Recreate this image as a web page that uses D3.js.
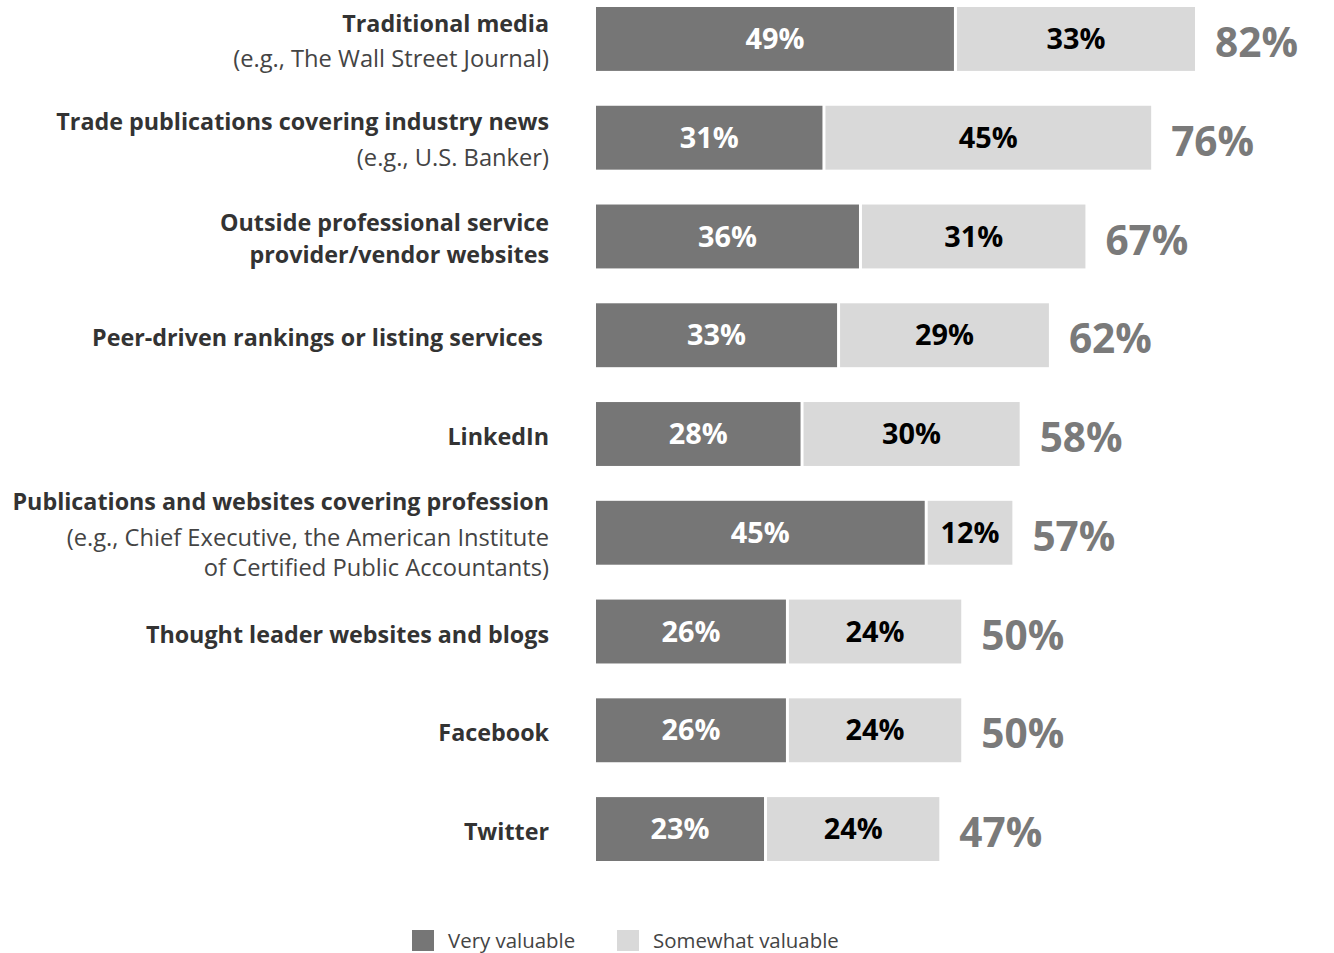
<!DOCTYPE html>
<html>
<head>
<meta charset="utf-8">
<script src="https://cdn.jsdelivr.net/npm/d3@7"></script>
<style>
  html, body { margin: 0; padding: 0; background: #ffffff; }
  svg { display: block; font-family: "Open Sans", "Lato", sans-serif; }
</style>
</head>
<body>
<svg id="chart" width="1334" height="953"></svg>
<script>
// ---- Data ----
const categories = [
  "Traditional media",
  "Trade publications covering industry news",
  "Outside professional service",
  "Peer-driven rankings or listing services\u00A0",
  "LinkedIn",
  "Publications and websites covering profession",
  "Thought leader websites and blogs",
  "Facebook",
  "Twitter"
];
const categoryExtraBold = [
  [],
  [],
  ["provider/vendor websites"],
  [],
  [],
  [],
  [],
  [],
  []
];
const categoryNotes = [
  ["(e.g., The Wall Street Journal)"],
  ["(e.g., U.S. Banker)"],
  [],
  [],
  [],
  ["(e.g., Chief Executive, the American Institute", "of Certified Public Accountants)"],
  [],
  [],
  []
];
const veryValuable     = [49, 31, 36, 33, 28, 45, 26, 26, 23];
const somewhatValuable = [33, 45, 31, 29, 30, 12, 24, 24, 24];
const totals           = [82, 76, 67, 62, 58, 57, 50, 50, 47];
const seriesNames = ["Very valuable", "Somewhat valuable"];

// ---- Style ----
const COLORS = { very: "#767676", some: "#d9d9d9", total: "#7a7a7a", label: "#333333", note: "#444444" };

const svg = d3.select("#chart");

function fitSize(sample, weight, target, base) {
  const t = svg.append("text").attr("font-size", base).attr("font-weight", weight).style("white-space", "pre").text(sample);
  const w = t.node().getComputedTextLength();
  t.remove();
  return base * target / w;
}
const FS_BOLD = fitSize("Publications and websites covering profession", 700, 537, 20);
const FS_NOTE = fitSize("(e.g., The Wall Street Journal)", 400, 316, 20);
const FS_SEG  = fitSize("49%", 700, 59, 24);
const FS_TOT  = fitSize("82%", 700, 83, 38);
const FS_LEG  = fitSize("Somewhat valuable", 400, 186, 19);

const x = d3.scaleLinear().domain([0, 82]).range([596, 1195]);
const y = d3.scaleBand().domain(d3.range(categories.length)).range([7, 861]).paddingInner(0.353).paddingOuter(0);

const rows = categories.map((c, i) => ({
  i, cat: c, boldLines: [c].concat(categoryExtraBold[i]), notes: categoryNotes[i],
  v: veryValuable[i], s: somewhatValuable[i], t: totals[i]
}));

const g = svg.append("g");
const row = g.selectAll("g.row").data(rows).join("g").attr("class", "row");

const GAP = 3;
row.append("rect")
  .attr("x", x(0))
  .attr("y", d => y(d.i))
  .attr("width", d => x(d.v) - x(0))
  .attr("height", y.bandwidth())
  .attr("fill", COLORS.very);
row.append("rect")
  .attr("x", d => x(d.v) + GAP)
  .attr("y", d => y(d.i))
  .attr("width", d => x(d.v + d.s) - x(d.v) - GAP)
  .attr("height", y.bandwidth())
  .attr("fill", COLORS.some);

row.append("text")
  .attr("x", d => (x(0) + x(d.v)) / 2)
  .attr("y", d => y(d.i) + y.bandwidth() / 2)
  .attr("dy", "0.35em")
  .attr("text-anchor", "middle")
  .attr("font-size", FS_SEG)
  .attr("font-weight", 700)
  .attr("fill", "#ffffff")
  .text(d => d.v + "%");
row.append("text")
  .attr("x", d => (x(d.v) + GAP + x(d.v + d.s)) / 2)
  .attr("y", d => y(d.i) + y.bandwidth() / 2)
  .attr("dy", "0.35em")
  .attr("text-anchor", "middle")
  .attr("font-size", FS_SEG)
  .attr("font-weight", 700)
  .attr("fill", "#000000")
  .text(d => d.s + "%");

row.append("text")
  .attr("x", d => x(d.v + d.s) + 20)
  .attr("y", d => y(d.i) + y.bandwidth() / 2 + 4)
  .attr("dy", "0.35em")
  .attr("font-size", FS_TOT)
  .attr("font-weight", 700)
  .attr("fill", COLORS.total)
  .text(d => d.t + "%");

// category labels with spacing depending on line kinds
function gapBetween(a, b) {
  if (a.bold && b.bold) return 32;
  if (a.bold && !b.bold) return 35;
  return 30;
}
row.each(function(d) {
  const lines = d.boldLines.map(t => ({ t, bold: true })).concat(d.notes.map(t => ({ t, bold: false })));
  let off = [0];
  for (let k = 1; k < lines.length; k++) off.push(off[k - 1] + gapBetween(lines[k - 1], lines[k]));
  const total = off[off.length - 1];
  const cy = y(d.i) + y.bandwidth() / 2 + (lines.length === 1 ? 3 : 2);
  const start = cy - total / 2;
  d3.select(this).selectAll("text.cat").data(lines).join("text")
    .attr("class", "cat")
    .attr("x", 549)
    .attr("y", (l, k) => start + off[k])
    .attr("dy", "0.35em")
    .attr("text-anchor", "end")
    .attr("font-size", l => l.bold ? FS_BOLD : FS_NOTE)
    .attr("font-weight", l => l.bold ? 700 : 400)
    .attr("fill", l => l.bold ? COLORS.label : COLORS.note)
    .style("white-space", "pre")
    .text(l => l.t);
});

const legend = svg.append("g").attr("transform", "translate(412,930)");
const legItems = [
  { name: seriesNames[0], color: COLORS.very, dx: 0 },
  { name: seriesNames[1], color: COLORS.some, dx: 205 }
];
const li = legend.selectAll("g").data(legItems).join("g").attr("transform", d => `translate(${d.dx},0)`);
li.append("rect").attr("width", 22).attr("height", 21).attr("fill", d => d.color);
li.append("text").attr("x", 36).attr("y", 11).attr("dy", "0.35em")
  .attr("font-size", FS_LEG).attr("fill", COLORS.note).text(d => d.name);
</script>
</body>
</html>
